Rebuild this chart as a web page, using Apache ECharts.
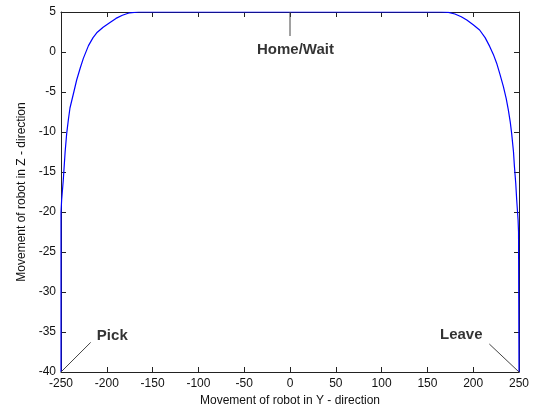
<!DOCTYPE html>
<html>
<head>
<meta charset="utf-8">
<script src="https://cdn.jsdelivr.net/npm/echarts@6/dist/echarts.min.js"></script>
<style>
  html, body { margin: 0; padding: 0; background: #fff; }
  #chart { width: 535px; height: 416px; }
</style>
</head>
<body>
<div id="chart"></div>
<script>
// robot path, Y (horizontal) vs Z (vertical)
var pathY = [-250, -250, -249.3, -247.5, -245.5, -243.8, -242, -240.2, -236, -232.9, -229, -225.6, -220, -215, -211, -204, -196.5, -190, -183, -175, -165,
             165, 173, 180, 187, 193, 200, 207, 213, 218, 222, 225.6, 229, 232.9, 236, 238.3, 240.5, 242, 244, 245, 246.5, 247.5, 249, 249.5, 250];
var pathZ = [-40, -20, -18.5, -16, -12.5, -10.2, -8.5, -7, -5, -3.5, -2, -0.8, 0.8, 1.8, 2.4, 3.1, 3.7, 4.2, 4.6, 4.9, 5,
             5, 4.95, 4.75, 4.4, 4.0, 3.4, 2.75, 1.8, 0.7, -0.3, -1.4, -2.7, -4.3, -5.8, -7.2, -8.8, -10.2, -12.5, -14.3, -16.5, -18.5, -21, -22.5, -40];

// annotations: text position and pointer line (from -> to)
var noteText = ['Home/Wait', 'Pick', 'Leave'];
var noteAt = [[6, 0.3], [-194, -35.5], [187, -35.4]];
var notePointer = [
  [[0, 5], [0, 2]],
  [[-250, -40], [-217.6, -36.3]],
  [[250, -40], [217.6, -36.5]]
];

var xTicks = { min: -250, max: 250, interval: 50 };
var yTicks = { min: -40, max: 5, interval: 5 };

var chart = echarts.init(document.getElementById('chart'));

var axisFont = { fontFamily: 'Liberation Sans, Arial, sans-serif', fontSize: 12, color: '#111' };
var boxLine = { show: true, onZero: false, lineStyle: { color: '#222', width: 1 } };
var inTick = { show: true, inside: true, length: 5, lineStyle: { color: '#222' } };

var series = [{
  type: 'line',
  data: pathY.map(function (y, i) { return [y, pathZ[i]]; }),
  showSymbol: false,
  animation: false,
  lineStyle: { color: '#0000ff', width: 1.2 },
  z: 3
}];

notePointer.forEach(function (seg) {
  series.push({
    type: 'line',
    data: seg,
    showSymbol: false,
    animation: false,
    silent: true,
    lineStyle: { color: '#444', width: 1 },
    z: 4
  });
});

series.push({
  type: 'scatter',
  symbolSize: 0,
  animation: false,
  silent: true,
  data: noteAt.map(function (p, i) { return { value: p, name: noteText[i] }; }),
  label: {
    show: true,
    position: 'inside',
    formatter: function (p) { return p.name; },
    fontFamily: 'Liberation Sans, Arial, sans-serif',
    fontWeight: 'bold',
    fontSize: 15,
    color: '#000'
  },
  z: 5
});

chart.setOption({
  backgroundColor: '#fff',
  grid: { left: 61, right: 16, top: 12, bottom: 44 },
  xAxis: [{
    type: 'value',
    min: xTicks.min, max: xTicks.max, interval: xTicks.interval,
    name: 'Movement of robot in Y - direction',
    nameLocation: 'middle',
    nameGap: 23,
    nameTextStyle: axisFont,
    axisLine: boxLine,
    axisTick: inTick,
    axisLabel: Object.assign({ margin: 6 }, axisFont),
    splitLine: { show: false }
  }, {
    type: 'value',
    position: 'top',
    min: xTicks.min, max: xTicks.max, interval: xTicks.interval,
    axisLine: boxLine,
    axisTick: inTick,
    axisLabel: { show: false },
    splitLine: { show: false }
  }],
  yAxis: [{
    type: 'value',
    min: yTicks.min, max: yTicks.max, interval: yTicks.interval,
    name: 'Movement of robot in Z - direction',
    nameLocation: 'middle',
    nameGap: 33,
    nameTextStyle: axisFont,
    axisLine: boxLine,
    axisTick: inTick,
    axisLabel: Object.assign({ margin: 5 }, axisFont),
    splitLine: { show: false }
  }, {
    type: 'value',
    position: 'right',
    min: yTicks.min, max: yTicks.max, interval: yTicks.interval,
    axisLine: boxLine,
    axisTick: inTick,
    axisLabel: { show: false },
    splitLine: { show: false }
  }],
  series: series
});
</script>
</body>
</html>
